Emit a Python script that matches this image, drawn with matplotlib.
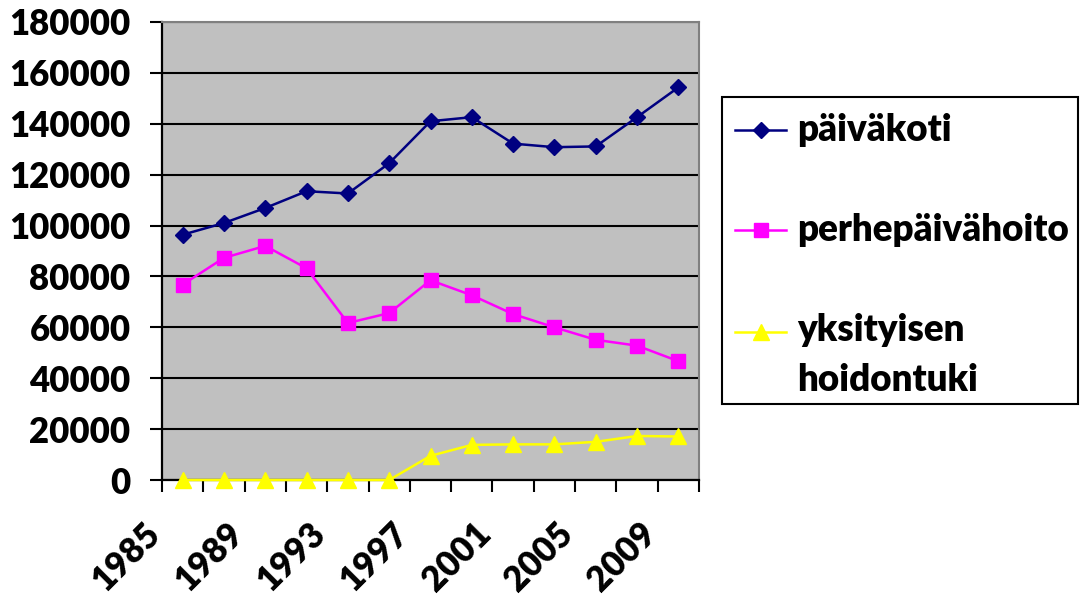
import matplotlib
matplotlib.use("Agg")
import matplotlib.pyplot as plt
from matplotlib.transforms import ScaledTranslation
from matplotlib.lines import Line2D
from matplotlib.patches import Rectangle

years = [1985, 1987, 1989, 1991, 1993, 1995, 1997, 1999, 2001, 2003, 2005, 2007, 2009]
shown_years = [1985, 1989, 1993, 1997, 2001, 2005, 2009]
paivakoti = [96400, 101000, 106900, 113500, 112600, 124500, 141000, 142600, 132200, 130800, 131100, 142600, 154300]
perhepaivahoito = [76800, 87300, 92000, 83200, 61700, 65600, 78500, 72600, 65200, 60000, 55100, 52800, 46700]
yksityisen = [0, 0, 0, 0, 0, 0, 9500, 13800, 14000, 14000, 15000, 17300, 17100]
series_names = ["päiväkoti", "perhepäivähoito", "yksityisen\nhoidontuki"]
y_ticks = [0, 20000, 40000, 60000, 80000, 100000, 120000, 140000, 160000, 180000]

FONT = "Lato"
WEIGHT = "heavy"
W, H, DPI = 1081, 601, 100
fig = plt.figure(figsize=(W / DPI, H / DPI), dpi=DPI)
fig.patch.set_facecolor("white")

def fx(px):
    return px / W

def fy(py):
    return 1 - py / H

ax = fig.add_axes([fx(162), fy(480), fx(699) - fx(162), fy(22) - fy(480)])
ax.set_facecolor("#C0C0C0")

xs = list(range(len(years)))
styles = [
    dict(color="#000080", marker="D", markersize=7.8),
    dict(color="#FF00FF", marker="s", markersize=9.5),
    dict(color="#FFFF00", marker="^", markersize=11),
]
data = [paivakoti, perhepaivahoito, yksityisen]
lines = []
for vals, st, name in zip(data, styles, series_names):
    ln, = ax.plot(xs, vals, color=st["color"], marker=st["marker"], markersize=st["markersize"],
                  markeredgecolor=st["color"], linewidth=1.8, label=name, zorder=3, clip_on=False)
    lines.append(ln)

ax.set_xlim(-0.5, len(years) - 0.5)
ax.set_ylim(0, 180000)
ax.set_yticks(y_ticks)
ax.set_yticklabels([str(v) for v in y_ticks], fontfamily=FONT, fontweight=WEIGHT, fontsize=25)
ax.set_xticks([i - 0.5 for i in range(len(years) + 1)])
ax.set_xticklabels([])
ax.tick_params(axis="both", direction="out", length=8.6, width=1.5, color="black")
ax.tick_params(axis="y", pad=14)
ax.yaxis.grid(True, color="black", linewidth=1.5)
ax.set_axisbelow(True)
for s in ["left", "bottom"]:
    ax.spines[s].set_color("black")
    ax.spines[s].set_linewidth(1.6)
for s in ["top", "right"]:
    ax.spines[s].set_color("#808080")
    ax.spines[s].set_linewidth(1.5)

off = ax.get_xaxis_transform() + ScaledTranslation(-16 / DPI, -37 / DPI, fig.dpi_scale_trans)
for yr in shown_years:
    i = years.index(yr)
    ax.text(i, 0, str(yr), transform=off, rotation=45, ha="right", va="top",
            fontfamily=FONT, fontweight=WEIGHT, fontsize=25)

# legend (drawn manually to match the layout)
fig.add_artist(Rectangle((fx(722), fy(404)), fx(1078) - fx(722), fy(97) - fy(404),
                         transform=fig.transFigure, facecolor="white", edgecolor="black", linewidth=1.5))
entry_y = [130, 230, 332]
text_y = [130, 230, 355]
for ln, name, py, ty in zip(lines, series_names, entry_y, text_y):
    fig.add_artist(Line2D([fx(735), fx(786)], [fy(py), fy(py)], transform=fig.transFigure,
                          color=ln.get_color(), linewidth=1.8))
    fig.add_artist(Line2D([fx(760.5)], [fy(py)], transform=fig.transFigure, color=ln.get_color(),
                          marker=ln.get_marker(), markersize=ln.get_markersize(),
                          markeredgecolor=ln.get_color(), linestyle="none"))
    fig.text(fx(797), fy(ty), name, ha="left", va="center", fontfamily=FONT, fontweight=WEIGHT,
             fontsize=26.5, linespacing=1.6)

fig.savefig("out.png", dpi=DPI)
